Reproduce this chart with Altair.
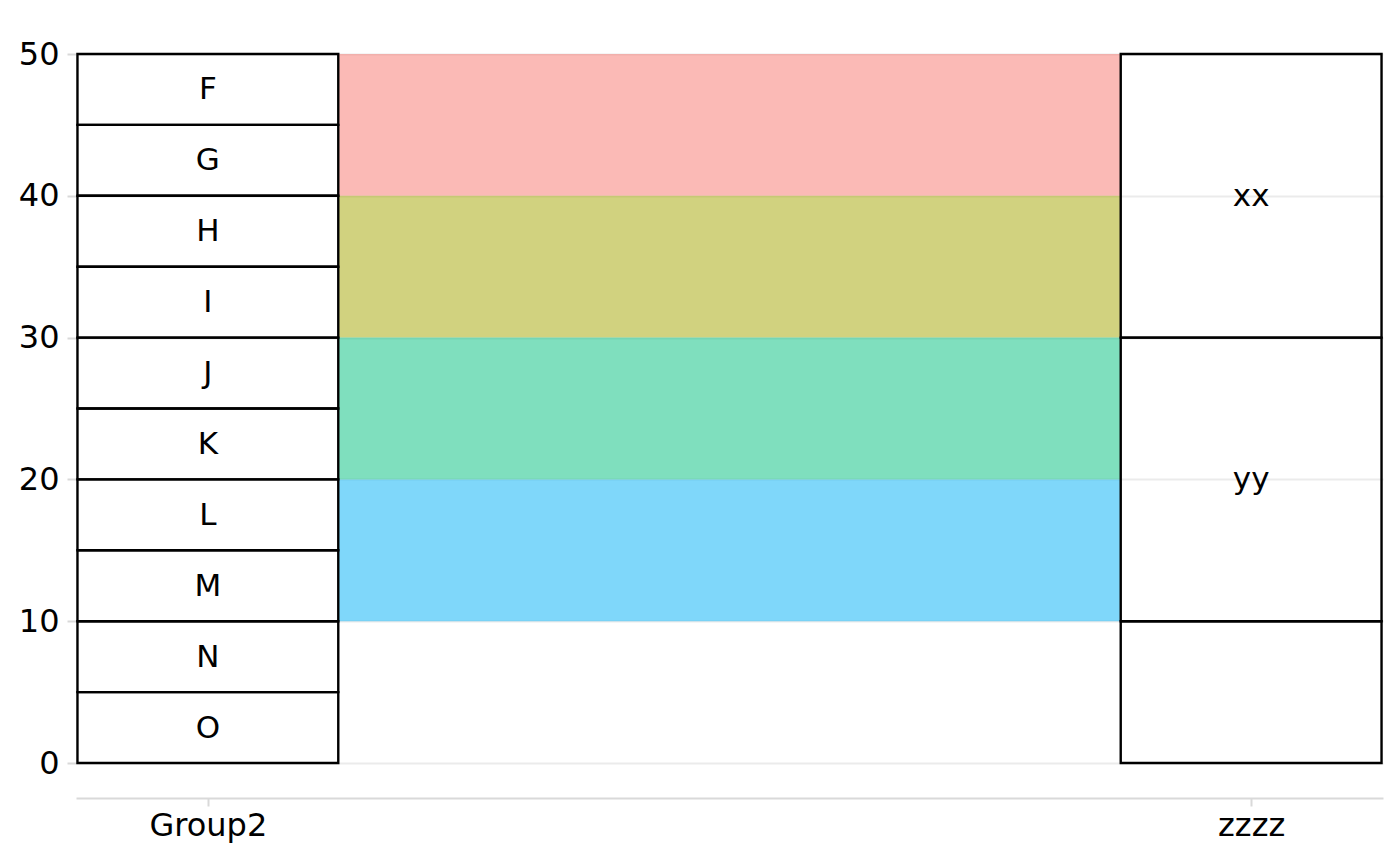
import altair as alt
import pandas as pd

# ---- data ----
axis_positions = [1, 2]
axis_names = ["Group2", "zzzz"]

left_labels = ["F", "G", "H", "I", "J", "K", "L", "M", "N", "O"]
left_lower = [45, 40, 35, 30, 25, 20, 15, 10, 5, 0]
left_upper = [50, 45, 40, 35, 30, 25, 20, 15, 10, 5]

right_labels = ["xx", "yy", ""]
right_lower = [30, 10, 0]
right_upper = [50, 30, 10]

flow_lower = [40, 30, 20, 10]
flow_upper = [50, 40, 30, 20]
flow_groups = ["a", "b", "c", "d"]
flow_colors = ["#F8766D", "#A3A500", "#00BF7D", "#00B0F6"]

y_ticks = [0, 10, 20, 30, 40, 50]

HALF = 0.125  # stratum half width (in axis units)
EXP = 0.1264  # discrete expansion

strata = pd.DataFrame(
    {
        "axis": [axis_positions[0]] * len(left_labels) + [axis_positions[1]] * len(right_labels),
        "label": left_labels + right_labels,
        "lo": left_lower + right_lower,
        "hi": left_upper + right_upper,
    }
)
strata["x1"] = strata["axis"] - HALF
strata["x2"] = strata["axis"] + HALF
strata["mid"] = (strata["lo"] + strata["hi"]) / 2

flows = pd.DataFrame(
    {"g": flow_groups, "lo": flow_lower, "hi": flow_upper}
)
flows["x1"] = axis_positions[0] + HALF
flows["x2"] = axis_positions[1] - HALF

xscale = alt.Scale(domain=[axis_positions[0] - EXP, axis_positions[1] + EXP], nice=False, zero=False)
yscale = alt.Scale(domain=[0, 50], nice=False, zero=True)

label_expr = "datum.value == 1 ? '" + axis_names[0] + "' : (datum.value == 2 ? '" + axis_names[1] + "' : '')"

x_axis = alt.Axis(
    values=axis_positions,
    labelExpr=label_expr,
    title=None,
    grid=False,
    domain=True,
    domainColor="#D9D9D9",
    domainWidth=2,
    ticks=True,
    tickColor="#D9D9D9",
    tickWidth=2,
    tickSize=8,
    offset=35,
    labelFont="DejaVu Sans",
    labelFontSize=32,
    labelColor="black",
    labelPadding=4,
)
y_axis = alt.Axis(
    values=y_ticks,
    title=None,
    grid=True,
    gridColor="#EBEBEB",
    gridWidth=2,
    domain=False,
    ticks=True,
    tickColor="#D9D9D9",
    tickWidth=2,
    tickSize=9,
    labelFont="DejaVu Sans",
    labelFontSize=32,
    labelColor="black",
    labelPadding=8,
)

flow_layer = (
    alt.Chart(flows)
    .mark_rect(fillOpacity=0.5, strokeWidth=0)
    .encode(
        x=alt.X("x1:Q", scale=xscale, axis=x_axis),
        x2="x2:Q",
        y=alt.Y("lo:Q", scale=yscale, axis=y_axis),
        y2="hi:Q",
        fill=alt.Fill("g:N", scale=alt.Scale(domain=flow_groups, range=flow_colors), legend=None),
    )
)

strata_layer = (
    alt.Chart(strata)
    .mark_rect(fillOpacity=0, stroke="black", strokeWidth=2.4)
    .encode(
        x=alt.X("x1:Q", scale=xscale, axis=x_axis),
        x2="x2:Q",
        y=alt.Y("lo:Q", scale=yscale, axis=y_axis),
        y2="hi:Q",
    )
)

text_layer = (
    alt.Chart(strata)
    .mark_text(font="DejaVu Sans", fontSize=31, color="black", baseline="middle", align="center", dy=1)
    .encode(
        x=alt.X("axis:Q", scale=xscale, axis=x_axis),
        y=alt.Y("mid:Q", scale=yscale, axis=y_axis),
        text="label:N",
    )
)

chart = (
    alt.layer(flow_layer, strata_layer, text_layer)
    .properties(
        width=1307,
        height=709,
        autosize=alt.AutoSizeParams(type="none"),
        padding={"left": 76, "top": 54, "right": 17, "bottom": 103},
        background="white",
    )
    .configure_view(stroke=None)
)

chart.save("out.html", embed_options={"renderer": "svg", "actions": False})
